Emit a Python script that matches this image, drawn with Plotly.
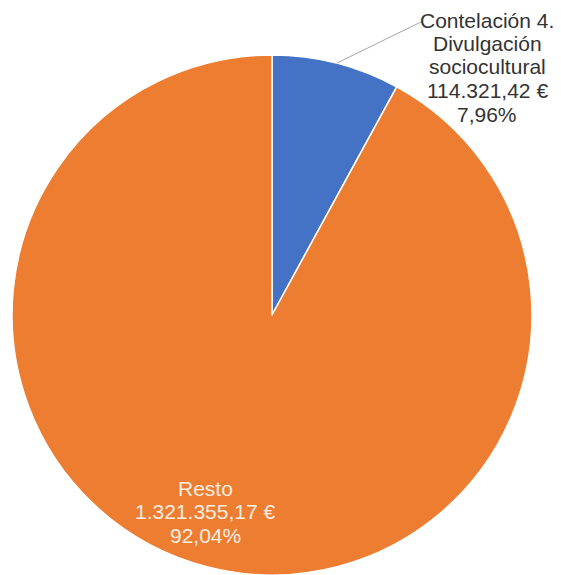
import plotly.graph_objects as go

labels = ["Contelación 4.<br>Divulgación<br>sociocultural", "Resto"]
values = [114321.42, 1321355.17]
colors = ["#4472C4", "#ED7D31"]

W, H = 561, 575
OFF = 8  # page body offset of the rendered div

def px(x):
    return (x - OFF) / W

def py(y):
    return 1 - (y - OFF) / H

def fmt_eur(v):
    s = f"{v:,.2f}"
    s = s.replace(",", "X").replace(".", ",").replace("X", ".")
    return s + " €"

def fmt_pct(p):
    return f"{p:.2f}".replace(".", ",") + "%"

total = sum(values)
line_sets = [l.split("<br>") + [fmt_eur(v), fmt_pct(v / total * 100)] for l, v in zip(labels, values)]

cx, cy, r = 272, 315, 260
fig = go.Figure(go.Pie(
    labels=[l.replace("<br>", " ") for l in labels],
    values=values,
    sort=False,
    direction="clockwise",
    rotation=0,
    marker=dict(colors=colors, line=dict(color="white", width=1.5)),
    textinfo="none",
    hoverinfo="label+value+percent",
    showlegend=False,
    domain=dict(x=[px(cx - r), px(cx + r)], y=[py(cy + r), py(cy - r)]),
))

fam = "Liberation Sans, Arial, sans-serif"
spacing = 23.5
anchors = [(487, 20, "#333333"), (205, 488, "#FDEDE0")]
for lines, (ax, ay, col) in zip(line_sets, anchors):
    for i, t in enumerate(lines):
        fig.add_annotation(x=px(ax), y=py(ay + i * spacing), xref="paper", yref="paper", text=t,
                           showarrow=False, xanchor="center", yanchor="middle", align="center",
                           font=dict(family=fam, size=21, color=col))

fig.add_shape(type="line", xref="paper", yref="paper",
              x0=px(337), y0=py(63), x1=px(423), y1=py(21),
              line=dict(color="#A6A6A6", width=1))

fig.update_layout(width=W, height=H, margin=dict(l=0, r=0, t=0, b=0),
                  paper_bgcolor="white", plot_bgcolor="white")
fig.write_html("out.html")
